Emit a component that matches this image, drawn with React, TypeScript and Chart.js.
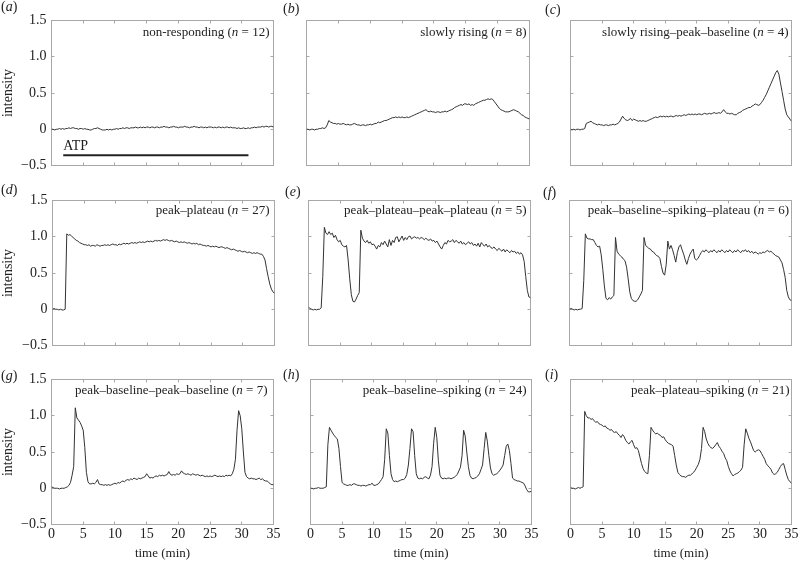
import React, { useEffect, useRef } from "react";
import { Chart, registerables } from "chart.js";

Chart.register(...registerables);

const W = 798;
const H = 562;
const FONT = "Liberation Serif";
const INK = "#222222";
const TRACE = "#333333";
const FRAME = "#a8a8a8";

// sampling grid (minutes)
const TIME_STEP = 0.25;
const N_SAMPLES = 141;
const TIME: number[] = Array.from({ length: N_SAMPLES }, (_, i) => i * TIME_STEP);

const X_TICKS = [0, 5, 10, 15, 20, 25, 30, 35];
const X_TICK_LABELS = ["0", "5", "10", "15", "20", "25", "30", "35"];
const Y_TICKS = [-0.5, 0, 0.5, 1.0, 1.5];
const Y_TICK_LABELS = ["\u22120.5", "0", "0.5", "1.0", "1.5"];

const ATP_START = 1.85;
const ATP_END = 31.05;
const ATP_LEVEL = -0.36;
const ATP_TEXT_LEVEL = -0.24;

const SERIES_A = [
  0.00, 0.00, -0.01, 0.00,
  0.00, 0.01, 0.00, 0.01,
  0.00, 0.01, 0.01, 0.02,
  0.01, 0.02, 0.02, 0.01,
  0.01, 0.00, 0.01, 0.01,
  0.00, 0.01, 0.00, 0.00,
  -0.01, -0.01, 0.00, 0.01,
  0.01, 0.02, 0.01, 0.00,
  -0.01, -0.01, -0.01, 0.00,
  -0.01, 0.00, -0.01, 0.00,
  0.00, 0.01, 0.00, 0.01,
  0.01, 0.02, 0.01, 0.02,
  0.02, 0.01, 0.02, 0.02,
  0.02, 0.03, 0.02, 0.02,
  0.03, 0.02, 0.03, 0.02,
  0.03, 0.03, 0.02, 0.03,
  0.03, 0.02, 0.03, 0.03,
  0.02, 0.03, 0.03, 0.04,
  0.03, 0.03, 0.02, 0.03,
  0.03, 0.04, 0.03, 0.03,
  0.02, 0.03, 0.03, 0.03,
  0.04, 0.03, 0.03, 0.02,
  0.03, 0.03, 0.04, 0.03,
  0.03, 0.02, 0.03, 0.03,
  0.02, 0.03, 0.02, 0.03,
  0.03, 0.03, 0.02, 0.03,
  0.02, 0.03, 0.03, 0.02,
  0.03, 0.02, 0.03, 0.03,
  0.02, 0.03, 0.02, 0.02,
  0.02, 0.01, 0.02, 0.01,
  0.01, 0.02, 0.01, 0.01,
  0.02, 0.01, 0.02, 0.02,
  0.03, 0.02, 0.03, 0.03,
  0.03, 0.04, 0.03, 0.04,
  0.04, 0.03, 0.04, 0.04,
  0.03,
];

const SERIES_B = [
  0.00, 0.00, -0.01, 0.00,
  0.00, -0.01, 0.00, 0.00,
  0.01, 0.01, 0.02, 0.01,
  0.02, 0.06, 0.12, 0.10,
  0.09, 0.08, 0.08, 0.07,
  0.08, 0.07, 0.07, 0.08,
  0.07, 0.06, 0.07, 0.06,
  0.06, 0.07, 0.08, 0.07,
  0.06, 0.06, 0.05, 0.06,
  0.06, 0.05, 0.06, 0.06,
  0.07, 0.06, 0.07, 0.08,
  0.08, 0.10, 0.09, 0.10,
  0.11, 0.12, 0.12, 0.13,
  0.14, 0.15, 0.16, 0.16,
  0.17, 0.16, 0.17, 0.16,
  0.17, 0.16, 0.16, 0.17,
  0.16, 0.17, 0.18, 0.19,
  0.20, 0.21, 0.22, 0.23,
  0.24, 0.25, 0.26, 0.27,
  0.25, 0.24, 0.25, 0.24,
  0.24, 0.23, 0.24, 0.24,
  0.23, 0.24, 0.24, 0.25,
  0.24, 0.25, 0.26, 0.27,
  0.28, 0.30, 0.31, 0.32,
  0.33, 0.34, 0.33, 0.35,
  0.35, 0.34, 0.35, 0.33,
  0.34, 0.33, 0.35, 0.36,
  0.37, 0.38, 0.39, 0.40,
  0.40, 0.41, 0.42, 0.41,
  0.42, 0.41, 0.38, 0.35,
  0.32, 0.29, 0.27, 0.26,
  0.25, 0.24, 0.24, 0.24,
  0.25, 0.26, 0.27, 0.26,
  0.25, 0.24, 0.22, 0.20,
  0.19, 0.17, 0.16, 0.15,
  0.14,
];

const SERIES_C = [
  0.00, -0.01, 0.00, -0.01,
  0.00, 0.00, -0.01, 0.00,
  0.00, 0.01, 0.08, 0.09,
  0.10, 0.11, 0.09, 0.08,
  0.07, 0.06, 0.07, 0.06,
  0.06, 0.05, 0.06, 0.06,
  0.05, 0.06, 0.06, 0.07,
  0.06, 0.07, 0.08, 0.10,
  0.14, 0.18, 0.15, 0.13,
  0.12, 0.13, 0.15, 0.12,
  0.14, 0.13, 0.12, 0.11,
  0.12, 0.11, 0.12, 0.11,
  0.11, 0.12, 0.13, 0.14,
  0.15, 0.16, 0.17, 0.16,
  0.17, 0.18, 0.17, 0.18,
  0.17, 0.18, 0.17, 0.18,
  0.18, 0.17, 0.18, 0.19,
  0.18, 0.19, 0.18, 0.19,
  0.20, 0.19, 0.20, 0.21,
  0.20, 0.21, 0.20, 0.21,
  0.20, 0.21, 0.21, 0.20,
  0.21, 0.22, 0.21, 0.21,
  0.22, 0.21, 0.22, 0.23,
  0.22, 0.22, 0.23, 0.22,
  0.24, 0.27, 0.24, 0.22,
  0.22, 0.21, 0.22, 0.21,
  0.20, 0.20, 0.22, 0.23,
  0.24, 0.26, 0.27, 0.28,
  0.29, 0.30, 0.30, 0.32,
  0.33, 0.35, 0.34, 0.33,
  0.34, 0.37, 0.40, 0.44,
  0.48, 0.53, 0.58, 0.63,
  0.68, 0.73, 0.78, 0.81,
  0.76, 0.64, 0.52, 0.40,
  0.28, 0.20, 0.17, 0.14,
  0.11,
];

const SERIES_D = [
  0.00, 0.01, 0.00, 0.00,
  -0.01, 0.00, -0.01, -0.01,
  0.00, 1.04, 1.02, 1.03,
  1.01, 0.99, 0.97, 0.95,
  0.94, 0.92, 0.91, 0.90,
  0.89, 0.89, 0.88, 0.89,
  0.87, 0.88, 0.88, 0.87,
  0.89, 0.88, 0.87, 0.88,
  0.88, 0.89, 0.88, 0.89,
  0.88, 0.89, 0.90, 0.89,
  0.89, 0.88, 0.90, 0.89,
  0.90, 0.91, 0.90, 0.91,
  0.90, 0.91, 0.92, 0.91,
  0.92, 0.91, 0.92, 0.93,
  0.92, 0.93, 0.92, 0.93,
  0.94, 0.93, 0.94, 0.93,
  0.94, 0.95, 0.94, 0.95,
  0.94, 0.95, 0.96, 0.95,
  0.96, 0.95, 0.94, 0.95,
  0.94, 0.93, 0.94, 0.93,
  0.92, 0.93, 0.92, 0.93,
  0.92, 0.91, 0.92, 0.91,
  0.90, 0.91, 0.90, 0.91,
  0.89, 0.90, 0.89, 0.88,
  0.88, 0.87, 0.88, 0.87,
  0.86, 0.87, 0.86, 0.87,
  0.86, 0.85, 0.86, 0.86,
  0.85, 0.84, 0.85, 0.84,
  0.83, 0.82, 0.83, 0.82,
  0.81, 0.80, 0.81, 0.80,
  0.79, 0.80, 0.79, 0.78,
  0.79, 0.78, 0.77, 0.78,
  0.77, 0.78, 0.77, 0.76,
  0.76, 0.73, 0.68, 0.56,
  0.45, 0.35, 0.28, 0.24,
  0.22,
];

const SERIES_E = [
  0.03, 0.01, 0.00, -0.01,
  0.00, -0.01, 0.00, 0.00,
  0.02, 0.45, 1.13, 1.05,
  1.03, 1.07, 1.03, 1.05,
  0.99, 1.02, 0.96, 0.93,
  0.95, 0.89, 0.87, 0.86,
  0.88, 0.68, 0.42, 0.20,
  0.11, 0.10, 0.14, 0.19,
  0.23, 1.09, 0.98, 0.94,
  0.92, 0.95, 0.91, 0.93,
  0.89, 0.90, 0.87, 0.83,
  0.88, 0.86, 0.92, 0.89,
  0.94, 0.90, 0.86, 0.96,
  0.88, 0.95, 0.92, 0.99,
  1.00, 0.93, 0.97, 1.01,
  0.95, 0.99, 0.96, 1.00,
  1.01, 0.97, 0.99, 1.00,
  0.98, 0.99, 0.97, 0.99,
  0.98, 0.96, 0.98, 0.96,
  0.95, 0.97, 0.94, 0.95,
  0.92, 0.94, 0.90, 0.86,
  0.83, 0.88, 0.92, 0.90,
  0.95, 0.93, 0.94, 0.96,
  0.92, 0.95, 0.93, 0.91,
  0.94, 0.90, 0.92, 0.89,
  0.91, 0.93, 0.90, 0.92,
  0.88, 0.90, 0.87, 0.91,
  0.86, 0.92, 0.89, 0.87,
  0.90, 0.86, 0.88, 0.85,
  0.84, 0.86, 0.83, 0.81,
  0.84, 0.82, 0.80, 0.83,
  0.79, 0.82, 0.80, 0.78,
  0.81, 0.79, 0.80, 0.77,
  0.79, 0.76, 0.78, 0.75,
  0.66, 0.45, 0.26, 0.17,
  0.16,
];

const SERIES_F = [
  0.00, 0.01, 0.00, -0.01,
  0.00, -0.01, 0.00, 0.00,
  0.01, 0.40, 1.04, 0.98,
  0.97, 0.97, 0.96, 0.96,
  0.92, 0.88, 0.86, 0.87,
  0.75, 0.55, 0.32, 0.15,
  0.13, 0.16, 0.14, 0.17,
  0.19, 0.99, 0.80, 0.76,
  0.74, 0.72, 0.69, 0.67,
  0.58, 0.42, 0.24, 0.15,
  0.12, 0.11, 0.11, 0.13,
  0.17, 0.21, 0.26, 0.99,
  0.88, 0.86, 0.84, 0.83,
  0.80, 0.79, 0.76, 0.74,
  0.73, 0.70, 0.59, 0.50,
  0.47, 0.62, 0.94, 0.83,
  0.88, 0.82, 0.74, 0.65,
  0.78, 0.86, 0.89, 0.82,
  0.76, 0.68, 0.62, 0.70,
  0.76, 0.80, 0.83, 0.70,
  0.68, 0.70, 0.74, 0.78,
  0.81, 0.79, 0.82, 0.80,
  0.78, 0.81, 0.79, 0.82,
  0.80, 0.78, 0.81, 0.79,
  0.82, 0.80, 0.78, 0.81,
  0.79, 0.82, 0.80, 0.78,
  0.81, 0.79, 0.82, 0.80,
  0.78, 0.81, 0.80, 0.82,
  0.79, 0.81, 0.78, 0.80,
  0.77, 0.79, 0.78, 0.76,
  0.78, 0.77, 0.79, 0.78,
  0.80, 0.81, 0.79, 0.80,
  0.78, 0.76, 0.74, 0.73,
  0.72, 0.68, 0.64, 0.55,
  0.44, 0.26, 0.17, 0.13,
  0.12,
];

const SERIES_G = [
  0.02, 0.01, 0.00, 0.00,
  0.00, -0.01, 0.00, 0.00,
  0.00, 0.01, 0.02, 0.04,
  0.08, 0.18, 0.30, 1.11,
  0.97, 0.94, 0.91, 0.86,
  0.80, 0.56, 0.22, 0.09,
  0.06, 0.06, 0.07, 0.06,
  0.08, 0.12, 0.06, 0.05,
  0.05, 0.04, 0.05, 0.04,
  0.05, 0.04, 0.05, 0.06,
  0.07, 0.06, 0.08, 0.07,
  0.09, 0.10, 0.09, 0.11,
  0.12, 0.11, 0.13, 0.12,
  0.14, 0.13, 0.12, 0.14,
  0.13, 0.14, 0.15, 0.16,
  0.20, 0.17, 0.14, 0.15,
  0.14, 0.16, 0.17, 0.16,
  0.18, 0.17, 0.18, 0.17,
  0.18, 0.19, 0.23, 0.19,
  0.18, 0.19, 0.18, 0.20,
  0.19, 0.20, 0.24, 0.21,
  0.20, 0.19, 0.20, 0.19,
  0.18, 0.20, 0.19, 0.18,
  0.19, 0.18, 0.17, 0.18,
  0.17, 0.16, 0.17, 0.16,
  0.17, 0.16, 0.17, 0.18,
  0.17, 0.16, 0.17, 0.16,
  0.17, 0.16, 0.18, 0.17,
  0.18, 0.17, 0.20, 0.26,
  0.40, 0.80, 1.07, 1.00,
  0.82, 0.50, 0.22, 0.16,
  0.14, 0.13, 0.14, 0.13,
  0.13, 0.12, 0.13, 0.14,
  0.12, 0.13, 0.11, 0.10,
  0.10, 0.08, 0.06, 0.05,
  0.05,
];

const SERIES_H = [
  0.00, 0.00, -0.01, 0.00,
  0.00, 0.01, 0.00, 0.00,
  0.00, 0.01, 0.02, 0.60,
  0.84, 0.80, 0.76, 0.73,
  0.70, 0.68, 0.55, 0.30,
  0.08, 0.06, 0.05, 0.04,
  0.04, 0.05, 0.04, 0.06,
  0.06, 0.05, 0.04, 0.04,
  0.03, 0.04, 0.04, 0.03,
  0.04, 0.05, 0.05, 0.07,
  0.04, 0.04, 0.05, 0.06,
  0.09, 0.12, 0.16, 0.40,
  0.82, 0.76, 0.45, 0.20,
  0.12, 0.09, 0.10, 0.09,
  0.10, 0.11, 0.12, 0.12,
  0.14, 0.19, 0.32, 0.55,
  0.82, 0.78, 0.45, 0.20,
  0.14, 0.13, 0.14, 0.13,
  0.15, 0.16, 0.14, 0.13,
  0.18, 0.30, 0.62, 0.84,
  0.70, 0.38, 0.18, 0.14,
  0.13, 0.14, 0.13, 0.14,
  0.14, 0.13, 0.14, 0.15,
  0.17, 0.19, 0.24, 0.29,
  0.45, 0.80, 0.72, 0.50,
  0.30, 0.18, 0.14, 0.13,
  0.14, 0.15, 0.17, 0.20,
  0.26, 0.32, 0.55, 0.77,
  0.65, 0.45, 0.28, 0.20,
  0.18, 0.19, 0.20, 0.22,
  0.25, 0.28, 0.32, 0.45,
  0.58, 0.61, 0.52, 0.34,
  0.14, 0.12, 0.11, 0.10,
  0.10, 0.09, 0.08, 0.07,
  0.03, -0.02, -0.05, -0.05,
  -0.04,
];

const SERIES_I = [
  0.01, 0.00, 0.00, -0.01,
  0.00, 0.01, 0.00, 0.01,
  0.02, 1.06, 1.00, 0.97,
  0.97, 0.95, 0.96, 0.93,
  0.91, 0.92, 0.89, 0.88,
  0.87, 0.85, 0.86, 0.83,
  0.82, 0.80, 0.81, 0.78,
  0.77, 0.78, 0.75, 0.73,
  0.70, 0.74, 0.71, 0.66,
  0.63, 0.61, 0.64, 0.66,
  0.60, 0.55, 0.56, 0.52,
  0.43, 0.34, 0.27, 0.23,
  0.21, 0.20, 0.45, 0.84,
  0.80, 0.77, 0.75, 0.76,
  0.74, 0.73, 0.70, 0.71,
  0.67, 0.64, 0.62, 0.61,
  0.60, 0.58, 0.45, 0.32,
  0.22, 0.19, 0.17, 0.16,
  0.16, 0.15, 0.17, 0.18,
  0.18, 0.20, 0.22, 0.25,
  0.29, 0.33, 0.40, 0.55,
  0.84, 0.78, 0.68, 0.62,
  0.58, 0.56, 0.55, 0.57,
  0.60, 0.63, 0.58, 0.55,
  0.51, 0.48, 0.42, 0.38,
  0.30, 0.24, 0.20, 0.17,
  0.19, 0.20, 0.21, 0.23,
  0.25, 0.29, 0.60, 0.82,
  0.76, 0.69, 0.64, 0.58,
  0.52, 0.50, 0.52, 0.53,
  0.52, 0.48, 0.44, 0.40,
  0.34, 0.31, 0.29, 0.26,
  0.21, 0.19, 0.20, 0.22,
  0.26, 0.30, 0.33, 0.34,
  0.26, 0.18, 0.12, 0.09,
  0.07,
];

type Panel = {
  tag: string;
  name: string;
  n: number;
  values: number[];
  box: [number, number, number, number]; // left, top, right, bottom (px)
  tagPos: [number, number];
  titleY: number;
  titleGap: number;
  yAxis: boolean;
  xAxis: boolean;
  atp?: boolean;
};

const PANELS: Panel[] = [
  { tag: "a", name: "non-responding", n: 12, values: SERIES_A, box: [51.5, 20.5, 273.5, 165.5], tagPos: [1, 7], titleY: 33, titleGap: 4, yAxis: true, xAxis: false, atp: true },
  { tag: "b", name: "slowly rising", n: 8, values: SERIES_B, box: [306.5, 20.5, 529.5, 165.5], tagPos: [283, 9], titleY: 33, titleGap: 3, yAxis: false, xAxis: false },
  { tag: "c", name: "slowly rising\u2013peak\u2013baseline", n: 4, values: SERIES_C, box: [570.5, 20.5, 791.5, 165.5], tagPos: [545, 10], titleY: 33, titleGap: 3, yAxis: false, xAxis: false },
  { tag: "d", name: "peak\u2013plateau", n: 27, values: SERIES_D, box: [52.5, 200.5, 274.5, 345.5], tagPos: [1, 190], titleY: 211, titleGap: 5, yAxis: true, xAxis: false },
  { tag: "e", name: "peak\u2013plateau\u2013peak\u2013plateau", n: 5, values: SERIES_E, box: [308.5, 200.5, 530.5, 345.5], tagPos: [285, 192], titleY: 211, titleGap: 4, yAxis: false, xAxis: false },
  { tag: "f", name: "peak\u2013baseline\u2013spiking\u2013plateau", n: 6, values: SERIES_F, box: [569.5, 200.5, 791.5, 345.5], tagPos: [543, 193], titleY: 211, titleGap: 2.5, yAxis: false, xAxis: false },
  { tag: "g", name: "peak\u2013baseline\u2013peak\u2013baseline", n: 7, values: SERIES_G, box: [51.5, 379.5, 273.5, 524.5], tagPos: [1, 376], titleY: 391, titleGap: 6, yAxis: true, xAxis: true },
  { tag: "h", name: "peak\u2013baseline\u2013spiking", n: 24, values: SERIES_H, box: [310.5, 379.5, 531.5, 524.5], tagPos: [283, 375], titleY: 391, titleGap: 5, yAxis: false, xAxis: true },
  { tag: "i", name: "peak\u2013plateau\u2013spiking", n: 21, values: SERIES_I, box: [570.5, 379.5, 791.5, 524.5], tagPos: [545, 375], titleY: 391, titleGap: 2, yAxis: false, xAxis: true },
];

type Part = { t: string; it?: boolean };

function drawRich(ctx: CanvasRenderingContext2D, parts: Part[], x: number, y: number, align: "left" | "right", size: number) {
  ctx.textBaseline = "middle";
  ctx.textAlign = "left";
  ctx.fillStyle = INK;
  const fontOf = (p: Part) => `${p.it ? "italic " : ""}${size}px "${FONT}"`;
  const widths = parts.map((p) => {
    ctx.font = fontOf(p);
    return ctx.measureText(p.t).width;
  });
  const total = widths.reduce((a, b) => a + b, 0);
  let cx = align === "left" ? x : x - total;
  parts.forEach((p, i) => {
    ctx.font = fontOf(p);
    ctx.fillText(p.t, cx, y);
    cx += widths[i];
  });
}

function makePlugin(p: Panel) {
  return {
    id: "frame_" + p.tag,
    beforeDatasetsDraw(chart: any) {
      const { ctx, chartArea } = chart;
      const xs = chart.scales.x;
      const ys = chart.scales.y;
      const { left, right, top, bottom } = chartArea;
      ctx.save();
      ctx.strokeStyle = FRAME;
      ctx.lineWidth = 1;
      ctx.strokeRect(left, top, right - left, bottom - top);
      ctx.beginPath();
      const tl = 3;
      X_TICKS.slice(1, -1).forEach((v) => {
        const px = Math.round(xs.getPixelForValue(v) - 0.5) + 0.5;
        ctx.moveTo(px, top);
        ctx.lineTo(px, top + tl);
        ctx.moveTo(px, bottom);
        ctx.lineTo(px, bottom - tl);
      });
      Y_TICKS.slice(1, -1).forEach((v) => {
        const py = Math.round(ys.getPixelForValue(v) - 0.5) + 0.5;
        ctx.moveTo(left, py);
        ctx.lineTo(left + tl, py);
        ctx.moveTo(right, py);
        ctx.lineTo(right - tl, py);
      });
      ctx.stroke();
      ctx.restore();
    },
    afterDraw(chart: any) {
      const { ctx, chartArea } = chart;
      ctx.save();
      drawRich(ctx, [{ t: "(" }, { t: p.tag, it: true }, { t: ")" }], p.tagPos[0], p.tagPos[1], "left", 14);
      drawRich(
        ctx,
        [{ t: p.name + " (" }, { t: "n", it: true }, { t: " = " + p.n + ")" }],
        chartArea.right - p.titleGap,
        p.titleY,
        "right",
        13
      );
      if (p.atp) {
        const xs = chart.scales.x;
        const ys = chart.scales.y;
        drawRich(ctx, [{ t: "ATP" }], xs.getPixelForValue(ATP_START), ys.getPixelForValue(ATP_TEXT_LEVEL), "left", 14);
      }
      ctx.restore();
    },
  };
}

function buildChart(canvas: HTMLCanvasElement, p: Panel) {
  const [L, T, R, B] = p.box;
  const n = Math.min(TIME.length, p.values.length);
  const points = [];
  for (let i = 0; i < n; i++) points.push({ x: TIME[i], y: p.values[i] });
  const datasets: any[] = [
    { data: points, borderColor: TRACE, borderWidth: 1, pointRadius: 0, tension: 0, fill: false },
  ];
  if (p.atp) {
    datasets.push({
      data: [
        { x: ATP_START, y: ATP_LEVEL },
        { x: ATP_END, y: ATP_LEVEL },
      ],
      borderColor: INK,
      borderWidth: 2,
      pointRadius: 0,
      fill: false,
    });
  }
  const xScale: any = {
    type: "linear",
    min: 0,
    max: 35,
    display: p.xAxis,
    afterBuildTicks: (s: any) => {
      s.ticks = X_TICKS.map((v) => ({ value: v }));
    },
    grid: { display: false, drawTicks: false },
    border: { display: false },
    ticks: {
      autoSkip: false,
      maxRotation: 0,
      padding: 1,
      color: INK,
      font: { family: FONT, size: 14 },
      callback: (v: any) => {
        const i = X_TICKS.findIndex((t) => Math.abs(t - Number(v)) < 1e-9);
        return i >= 0 ? X_TICK_LABELS[i] : "";
      },
    },
    title: {
      display: true,
      text: "time (min)",
      color: INK,
      font: { family: FONT, size: 13 },
      padding: { top: 0, bottom: 1 },
    },
  };
  if (p.xAxis) {
    xScale.afterFit = (s: any) => {
      s.height = H - B;
      s.paddingLeft = 0;
      s.paddingRight = 0;
    };
  }
  const yScale: any = {
    type: "linear",
    min: -0.5,
    max: 1.5,
    display: p.yAxis,
    afterBuildTicks: (s: any) => {
      s.ticks = Y_TICKS.map((v) => ({ value: v }));
    },
    grid: { display: false, drawTicks: false },
    border: { display: false },
    ticks: {
      padding: 5,
      color: INK,
      font: { family: FONT, size: 14 },
      callback: (v: any) => {
        const i = Y_TICKS.findIndex((t) => Math.abs(t - Number(v)) < 1e-9);
        return i >= 0 ? Y_TICK_LABELS[i] : "";
      },
    },
    title: {
      display: true,
      text: "intensity",
      color: INK,
      font: { family: FONT, size: 14 },
      padding: { top: 0, bottom: 0 },
    },
  };
  if (p.yAxis) {
    yScale.afterFit = (s: any) => {
      s.width = L;
      s.paddingTop = 0;
      s.paddingBottom = 0;
    };
  }
  return new Chart(canvas, {
    type: "line",
    data: { datasets },
    options: {
      animation: false,
      responsive: false,
      maintainAspectRatio: false,
      devicePixelRatio: 1,
      events: [],
      layout: {
        padding: {
          left: p.yAxis ? 0 : L,
          top: T,
          right: W - R,
          bottom: p.xAxis ? 0 : H - B,
        },
      },
      plugins: { legend: { display: false }, tooltip: { enabled: false }, title: { display: false } },
      scales: { x: xScale, y: yScale },
    } as any,
    plugins: [makePlugin(p) as any],
  });
}

export default function App() {
  const refs = useRef<(HTMLCanvasElement | null)[]>([]);
  useEffect(() => {
    Chart.defaults.font.family = FONT;
    const charts = PANELS.map((p, i) => buildChart(refs.current[i] as HTMLCanvasElement, p));
    return () => charts.forEach((c) => c.destroy());
  }, []);
  return (
    <div style={{ position: "fixed", left: 0, top: 0, width: W, height: H, background: "#ffffff", overflow: "hidden" }}>
      {PANELS.map((p, i) => (
        <canvas
          key={p.tag}
          ref={(el) => {
            refs.current[i] = el;
          }}
          width={W}
          height={H}
          style={{ position: "absolute", left: 0, top: 0, width: W, height: H }}
        />
      ))}
    </div>
  );
}
